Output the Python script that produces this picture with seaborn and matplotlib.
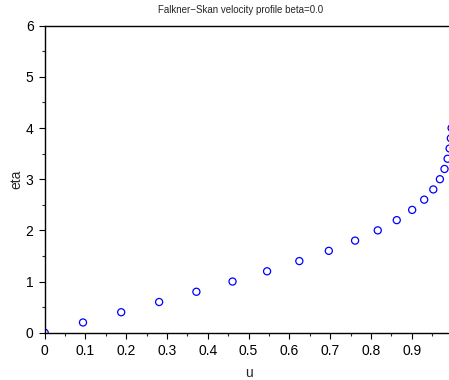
import numpy as np
import pandas as pd
import matplotlib
matplotlib.use("Agg")
import matplotlib.pyplot as plt
import seaborn as sns
from matplotlib.ticker import MultipleLocator

# Falkner-Skan (beta = 0) velocity profile
eta = [0.0, 0.2, 0.4, 0.6, 0.8, 1.0, 1.2, 1.4, 1.6, 1.8, 2.0,
       2.2, 2.4, 2.6, 2.8, 3.0, 3.2, 3.4, 3.6, 3.8, 4.0]
u = [0.0, 0.0939, 0.1876, 0.2806, 0.3720, 0.4606, 0.5453, 0.6244, 0.6967, 0.7611, 0.8167,
     0.8633, 0.9011, 0.9306, 0.9529, 0.9691, 0.9804, 0.9880, 0.9929, 0.9959, 0.9978]

df = pd.DataFrame({"u": u, "eta": eta})

sns.set_style("ticks")
plt.rcParams['font.family'] = ['Liberation Sans', 'DejaVu Sans']

W, H = 449, 380
fig = plt.figure(figsize=(W / 100, H / 100), dpi=100)
ax = fig.add_axes([44.7 / W, (H - 332.7) / H, (452.5 - 44.7) / W, (332.7 - 25.7) / H])

sns.scatterplot(data=df, x="u", y="eta", ax=ax, marker="o", s=26,
                facecolor="none", edgecolor="blue", linewidth=0.9, legend=False)

ax.set_xlim(0, 1)
ax.set_ylim(0, 6)
ax.xaxis.set_minor_locator(MultipleLocator(0.05))
ax.yaxis.set_minor_locator(MultipleLocator(0.5))
ax.set_xticks(np.arange(0, 1.0, 0.1))
ax.set_xticklabels(["0", "0.1", "0.2", "0.3", "0.4", "0.5", "0.6", "0.7", "0.8", "0.9"])
ax.set_yticks(range(0, 7))
ax.set_yticklabels([str(i) for i in range(0, 7)])

ax.tick_params(which="major", direction="out", length=4, width=0.8, labelsize=10, pad=4, colors="black")
ax.tick_params(which="minor", direction="out", length=2.5, width=0.8)
for side in ["left", "bottom", "top"]:
    ax.spines[side].set_linewidth(1.0)
    ax.spines[side].set_color("black")
ax.spines["right"].set_visible(False)

ax.set_xlabel("u", fontsize=10, labelpad=6)
ax.set_ylabel("eta", fontsize=10, labelpad=2)
fig.text(241 / W, 1 - 10 / H, "Falkner\u2212Skan velocity profile beta=0.0",
         ha="center", va="center", fontsize=7)

fig.savefig("out.png", dpi=100)
